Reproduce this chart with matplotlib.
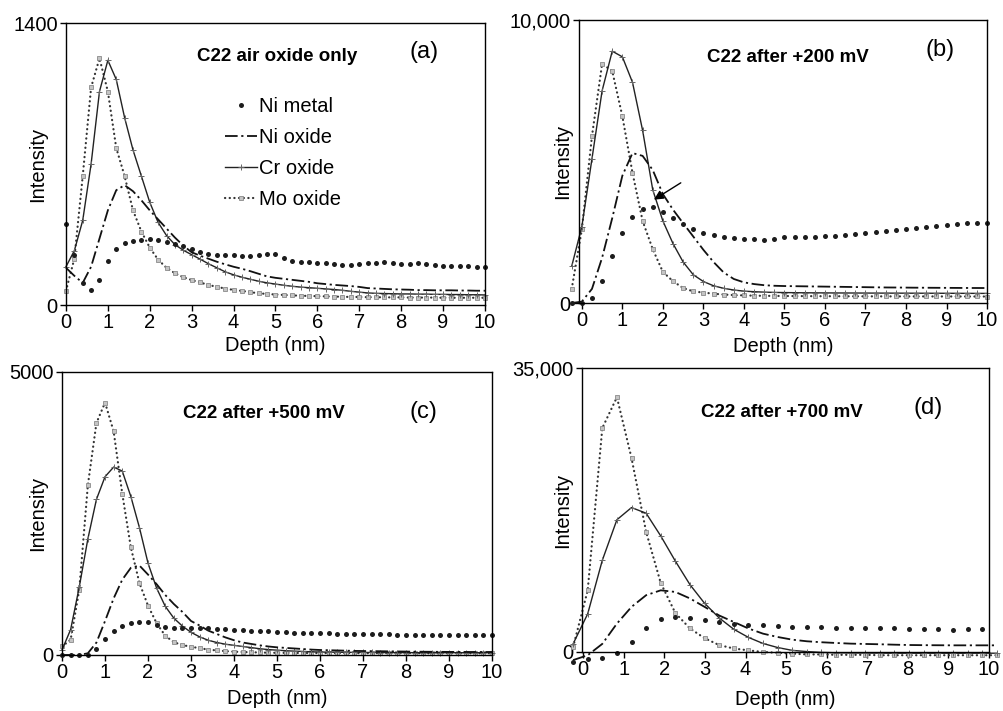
import numpy as np
import matplotlib
matplotlib.use("Agg")
import matplotlib.pyplot as plt

plt.rcParams['font.family'] = ['Liberation Sans', 'DejaVu Sans']
plt.rcParams['font.size'] = 14.5

# ---- data (depth in nm, intensity in counts) ----
# panel (a): air oxide only
depth_a = np.round(np.arange(0, 10.01, 0.2), 2)
ni_metal_a = [400, 250, 110, 75, 125, 220, 280, 308, 320, 325,
              326, 324, 315, 305, 294, 280, 265, 255, 249, 247,
              246, 245, 244, 246, 254, 252, 232, 220, 215, 213,
              210, 207, 204, 200, 197, 204, 208, 211, 215, 210,
              205, 204, 211, 204, 197, 195, 194, 193, 192, 190, 188]
ni_oxide_a = [185, 145, 110, 190, 330, 470, 570, 595, 565, 520,
              470, 425, 380, 335, 295, 262, 245, 230, 215, 202,
              190, 180, 168, 155, 142, 135, 130, 125, 120, 115,
              108, 104, 100, 97, 94, 90, 84, 82, 80, 78,
              77, 76, 74, 74, 73, 73, 73, 72, 72, 71, 71]
cr_oxide_a = [190, 270, 420, 700, 1060, 1215, 1120, 930, 770, 640,
              510, 410, 345, 300, 272, 250, 228, 205, 185, 165,
              150, 138, 128, 118, 110, 104, 98, 93, 89, 86,
              83, 80, 77, 73, 68, 64, 60, 58, 57, 56,
              55, 55, 54, 54, 53, 53, 52, 52, 51, 51, 50]
mo_oxide_a = [70, 230, 640, 1080, 1225, 1060, 780, 640, 470, 365,
              285, 225, 185, 158, 138, 124, 112, 100, 90, 82,
              75, 70, 64, 58, 55, 52, 50, 48, 46, 45,
              44, 43, 42, 41, 40, 40, 39, 39, 38, 38,
              38, 37, 37, 37, 37, 36, 36, 36, 36, 36, 36]

# panel (b): after +200 mV
depth_b = np.round(np.arange(-0.25, 10.01, 0.25), 2)
ni_metal_b = [0, 0, 180, 770, 1650, 2470, 3050, 3340, 3380, 3200,
              3000, 2800, 2620, 2480, 2400, 2340, 2300, 2270, 2250, 2240,
              2280, 2320, 2320, 2320, 2340, 2360, 2380, 2410, 2440, 2470,
              2510, 2550, 2590, 2620, 2650, 2690, 2720, 2750, 2790, 2820,
              2820, 2830]
ni_oxide_b = [0, 50, 500, 1600, 3000, 4500, 5300, 5200, 4700, 3850,
              3300, 2820, 2350, 1880, 1450, 1080, 850, 730, 670, 630,
              610, 600, 595, 590, 585, 580, 575, 570, 565, 560,
              555, 550, 548, 545, 542, 540, 538, 536, 534, 532,
              531, 530]
cr_oxide_b = [1300, 2700, 5100, 7500, 8900, 8700, 7800, 6100, 4000, 2900,
              2100, 1450, 1000, 760, 610, 520, 460, 420, 400, 385,
              375, 370, 365, 362, 360, 358, 356, 355, 354, 352,
              351, 350, 349, 348, 347, 346, 345, 344, 343, 342,
              341, 340]
mo_oxide_b = [500, 2600, 5900, 8450, 8200, 6600, 4600, 2900, 1900, 1100,
              770, 530, 410, 370, 330, 300, 280, 270, 260, 255,
              250, 248, 246, 244, 242, 240, 240, 238, 238, 236,
              236, 235, 235, 234, 234, 233, 233, 232, 232, 231,
              231, 230]

# panel (c): after +500 mV
depth_c = np.round(np.arange(0, 10.01, 0.2), 2)
ni_metal_c = [0, 0, 0, 5, 100, 290, 420, 520, 565, 588,
              585, 530, 495, 472, 475, 482, 478, 470, 460, 452,
              443, 438, 432, 425, 416, 410, 400, 394, 388, 382,
              381, 380, 378, 375, 372, 370, 368, 366, 364, 360,
              357, 355, 354, 353, 353, 352, 353, 353, 352, 352, 352]
ni_oxide_c = [0, 0, 0, 30, 220, 600, 1000, 1330, 1540, 1580,
              1420, 1250, 1060, 900, 760, 600, 520, 430, 370, 310,
              260, 220, 195, 170, 150, 135, 125, 115, 105, 95,
              88, 84, 80, 76, 72, 70, 68, 66, 64, 62,
              60, 58, 57, 56, 55, 54, 54, 53, 53, 53, 53]
cr_oxide_c = [90, 450, 1200, 2050, 2750, 3150, 3320, 3250, 2800, 2250,
              1620, 1180, 860, 650, 510, 400, 320, 260, 220, 190,
              170, 150, 130, 110, 95, 85, 75, 68, 62, 56,
              52, 50, 48, 47, 46, 45, 44, 43, 42, 42,
              41, 41, 40, 40, 40, 40, 40, 40, 40, 40, 40]
mo_oxide_c = [150, 270, 1150, 3000, 4100, 4460, 3950, 2850, 1900, 1270,
              870, 560, 340, 225, 175, 145, 120, 95, 80, 68,
              58, 52, 48, 44, 40, 38, 37, 36, 35, 35,
              34, 34, 33, 33, 33, 32, 32, 32, 31, 31,
              31, 31, 30, 30, 30, 30, 30, 30, 30, 30, 30]

# panel (d): after +700 mV
depth_d = np.round(np.arange(-0.25, 10.2, 0.36), 2)
ni_metal_d = [-1200, -900, -800, -100, 1250, 3000, 4050, 4300, 4150, 3950,
              3700, 3500, 3350, 3300, 3150, 3100, 3100, 3050, 3000, 2950,
              3000, 2950, 2900, 2850, 2800, 2780, 2770, 2780, 2780, np.nan]
ni_oxide_d = [-1000, -400, 1000, 3500, 5560, 7000, 7600, 7400, 6600, 5560,
              4500, 3700, 2900, 2260, 1850, 1520, 1320, 1200, 1110, 1030,
              990, 950, 900, 860, 840, 830, 820, 820, 820, 820]
cr_oxide_d = [1000, 4700, 11300, 16300, 17800, 17100, 14300, 11200, 8300, 6000,
              4200, 2800, 1800, 1050, 550, 200, 50, -50, -100, -120,
              -130, -140, -150, -150, -150, -150, -150, -150, -150, -150]
mo_oxide_d = [600, 7600, 27600, 31400, 23900, 14800, 8500, 4800, 2900, 1700,
              850, 430, 200, 0, -100, -200, -300, -300, -350, -350,
              -350, -400, -400, -400, -400, -400, -400, -400, -400, -400]

panels = [
    ("C22 air oxide only", "(a)", depth_a, ni_metal_a, ni_oxide_a, cr_oxide_a, mo_oxide_a, 1400, "1400"),
    ("C22 after +200 mV", "(b)", depth_b, ni_metal_b, ni_oxide_b, cr_oxide_b, mo_oxide_b, 10000, "10,000"),
    ("C22 after +500 mV", "(c)", depth_c, ni_metal_c, ni_oxide_c, cr_oxide_c, mo_oxide_c, 5000, "5000"),
    ("C22 after +700 mV", "(d)", depth_d, ni_metal_d, ni_oxide_d, cr_oxide_d, mo_oxide_d, 35000, "35,000"),
]

# axes rectangles (figure fraction) and label placement
rects = [[0.0657, 0.5710, 0.4173, 0.3966],
         [0.5767, 0.5738, 0.4064, 0.3980],
         [0.0618, 0.0788, 0.4283, 0.3980],
         [0.5797, 0.0830, 0.4054, 0.3994]]
xmins = [0, -0.07, 0, -0.03]
ylab_x = [-0.067, -0.039, -0.056, -0.047]
xlab_y = [-0.142, -0.155, -0.155, -0.168]
title_pos = [(0.504, 0.880), (0.512, 0.866), (0.47, 0.855), (0.49, 0.845)]
letter_pos = [(0.855, 0.897), (0.885, 0.894), (0.84, 0.859), (0.85, 0.859)]

fig = plt.figure(figsize=(10.04, 7.11), dpi=100)

for i, (title, letter, depth, nim, nio, cro, moo, ymax, ytxt) in enumerate(panels):
    ax = fig.add_axes(rects[i])
    # Mo oxide: dotted line with grey squares
    l_mo, = ax.plot(depth, moo, ls=(0, (0.1, 2.0)), lw=1.6, color='#333333',
                    dash_capstyle='round', marker='s', ms=3.3, mfc='#c4c4c4',
                    mec='#8a8a8a', mew=0.6, clip_on=False, label='Mo oxide')
    # Cr oxide: solid line with small plus signs
    l_cr, = ax.plot(depth, cro, ls='-', lw=1.0, color='#222222', marker='+',
                    ms=4.5, mec='#666666', mew=0.7, clip_on=False, label='Cr oxide')
    # Ni oxide: long dash - dot
    l_nio, = ax.plot(depth, nio, ls=(0, (7, 2, 1.2, 2)), lw=1.3, color='#111111',
                     clip_on=False, label='Ni oxide')
    # Ni metal: dots only
    l_nim, = ax.plot(depth, nim, ls='none', marker='o', ms=3.6, color='#1c1c1c',
                     mec='none', clip_on=False, label='Ni metal')

    ax.set_xlim(xmins[i], 10)
    ax.set_ylim(0, ymax)
    ax.set_xticks(range(0, 11))
    ax.set_yticks([0, ymax])
    ax.set_yticklabels(['0', ytxt])
    ax.tick_params(direction='out', length=4, width=1, pad=2, labelsize=14.5)
    for sp in ax.spines.values():
        sp.set_linewidth(1.0)

    ax.set_xlabel('Depth (nm)')
    ax.xaxis.set_label_coords(0.5, xlab_y[i])
    ax.xaxis.label.set_verticalalignment('center')
    ax.set_ylabel('Intensity')
    ax.yaxis.set_label_coords(ylab_x[i], 0.5)
    ax.yaxis.label.set_verticalalignment('center')

    ax.text(*title_pos[i], title, transform=ax.transAxes, ha='center', va='center',
            fontsize=13.5, fontweight='bold')
    ax.text(*letter_pos[i], letter, transform=ax.transAxes, ha='center', va='center',
            fontsize=17)

    if i == 0:
        ax.legend(handles=[l_nim, l_nio, l_cr, l_mo], loc='upper left',
                  bbox_to_anchor=(0.379, 0.738), frameon=False, numpoints=1,
                  handlelength=1.6, handletextpad=0.1, labelspacing=0.6,
                  borderpad=0, borderaxespad=0, fontsize=14.5)
    if i == 1:
        ax.annotate('', xy=(1.72, 3600), xytext=(2.5, 4300),
                    arrowprops=dict(arrowstyle='-|>', color='black', lw=1.0,
                                    mutation_scale=14))

fig.savefig('out.png', dpi=100)
